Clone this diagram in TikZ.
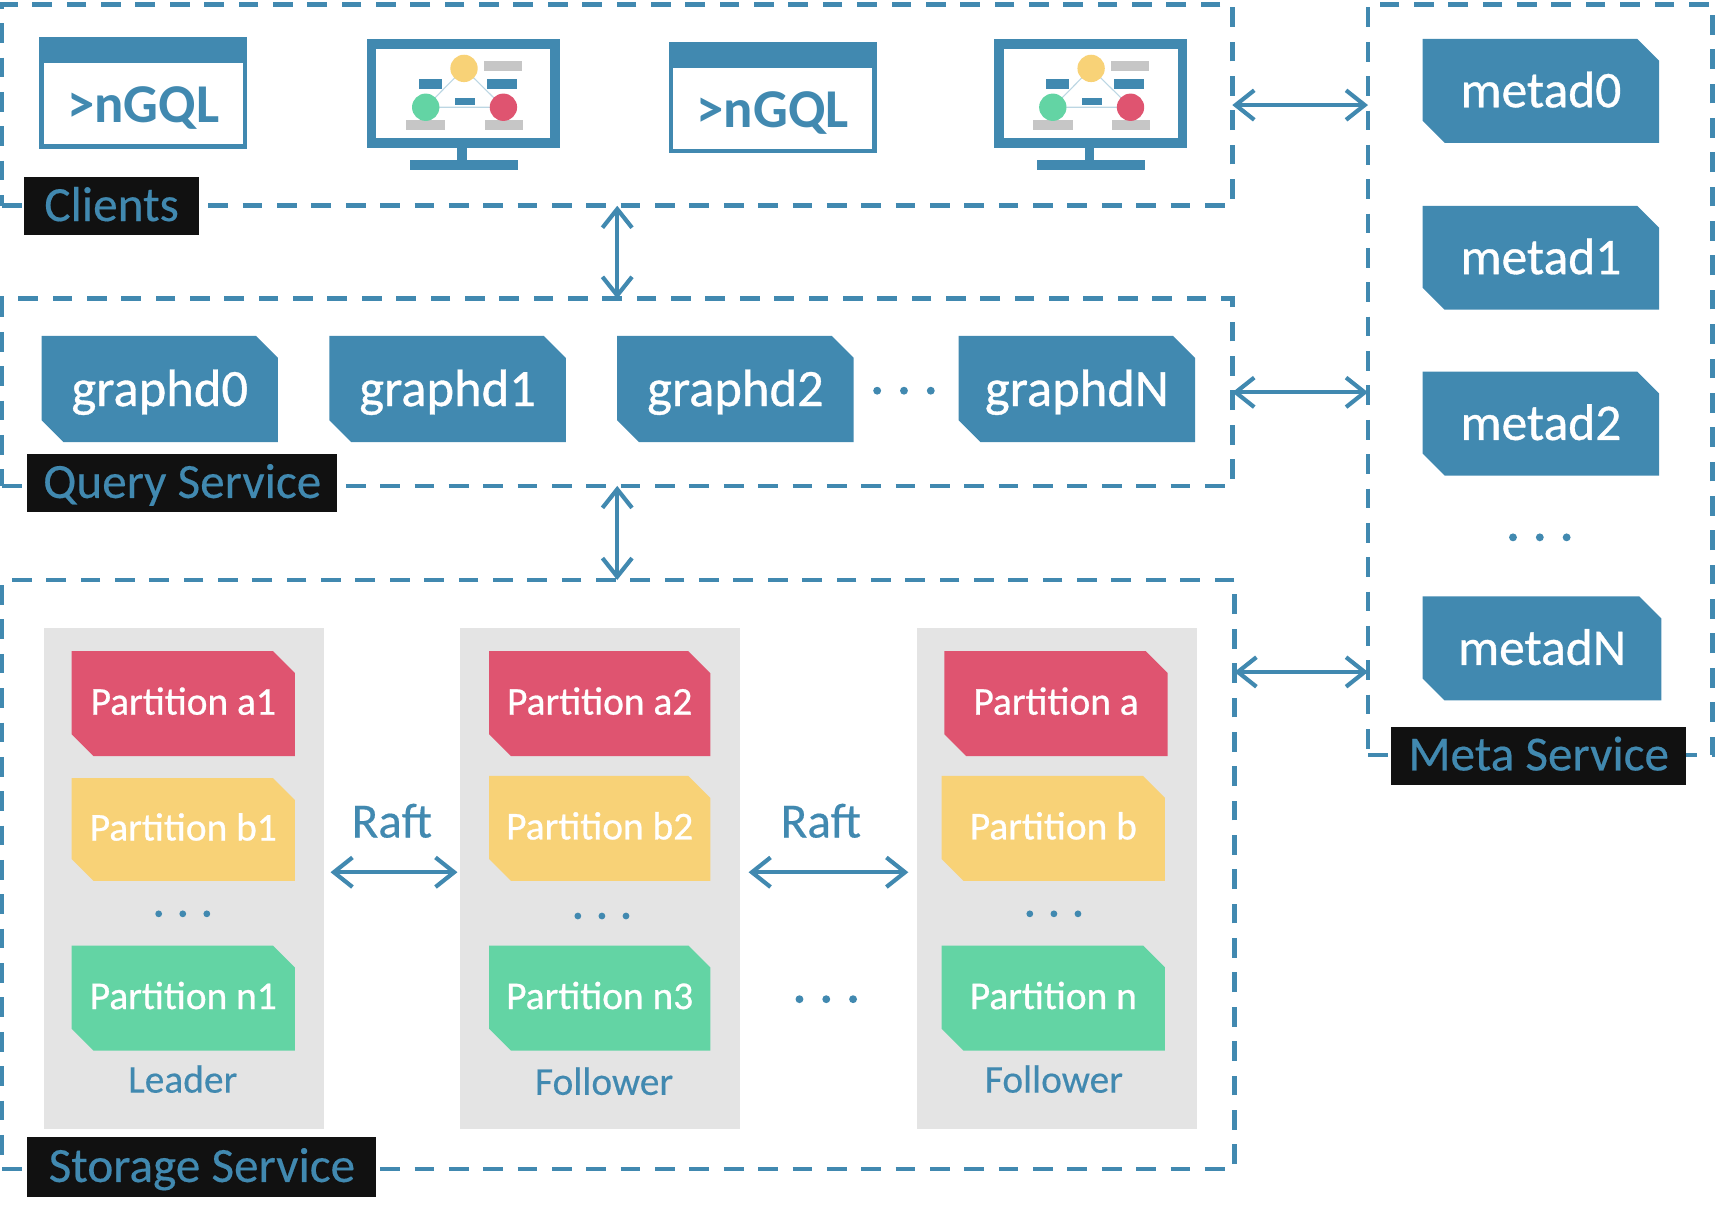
\documentclass[tikz,border=0pt]{standalone}
\usepackage{fontspec}
\setmainfont{Carlito}
\newfontfamily\semib[FakeBold=0.7]{Carlito}
\newfontfamily\semic[FakeBold=0.35]{Carlito}
\usetikzlibrary{arrows.meta,shapes.misc,calc}
\definecolor{cblue}{HTML}{4189B0}
\definecolor{cred}{HTML}{DF5470}
\definecolor{cyel}{HTML}{F8D277}
\definecolor{cgrn}{HTML}{63D4A4}
\definecolor{cgray}{HTML}{E4E4E4}
\definecolor{cicon}{HTML}{C6C6C6}
\definecolor{cblack}{HTML}{111111}
\newcommand{\fs}[1]{\fontsize{#1}{#1}\selectfont}
\tikzset{
  x=1pt,y=-1pt,
  svcbox/.style={draw=cblue,line width=4.2pt,dash pattern=on 18pt off 13.4pt,rectangle,inner sep=0,outer sep=0},
  tagbox/.style={fill=cblack,text=cblue,font=\semic\fs{45},text height=27pt,text depth=0pt,inner sep=0,outer sep=0,rectangle},
  snip/.style={chamfered rectangle,chamfered rectangle corners={north east,south west},chamfered rectangle xsep=10pt,chamfered rectangle ysep=10pt,inner sep=0,outer sep=0,text=white},
  gd/.style={snip,fill=cblue,minimum width=216pt,minimum height=97pt,font=\semib\fs{48},text height=36pt,text depth=5pt},
  md/.style={snip,fill=cblue,minimum width=216pt,minimum height=95pt,font=\semib\fs{47},text height=30pt,text depth=0pt},
  pt/.style={snip,minimum width=204pt,minimum height=96pt,font=\semib\fs{36},text height=26pt,text depth=6pt},
  colbox/.style={fill=cgray,rectangle,minimum width=256pt,minimum height=458pt,inner sep=0,outer sep=0},
  biarrow/.style={draw=cblue,line width=3.8pt,{Straight Barb[length=17pt,width=27pt,line width=3.8pt]}-{Straight Barb[length=17pt,width=27pt,line width=3.8pt]}},
  bluetext/.style={text=cblue,inner sep=0},
  nwindow/.pic={
    \fill[cblue] (0,0) rectangle (190,24);
    \draw[cblue,line width=4pt] (2,2) rectangle (188,100);
    \node[bluetext,font=\fs{50}\bfseries] (-t) at (95,65) {>nGQL};
  },
  nmonitor/.pic={
    \draw[cblue,line width=9pt] (4.5,4.5) rectangle (172.5,94.5);
    \fill[cblue] (83,99) rectangle (92,110);
    \fill[cblue] (40,110) rectangle (138,119);
    \draw[cblue!35,line width=1pt] (89,26.5) -- (54,62) -- (125,62) -- cycle;
    \fill[cicon] (107,20) rectangle (142,29);
    \fill[cicon] (36,74) rectangle (72,83);
    \fill[cicon] (108,74) rectangle (143,83);
    \fill[cblue] (48,36) rectangle (69,45);
    \fill[cblue] (110,36) rectangle (137,45);
    \fill[cblue] (81,54) rectangle (99,60);
    \fill[cyel] (89,26.5) circle (12.5pt);
    \fill[cgrn] (54,62) circle (12.5pt);
    \fill[cred] (125,62) circle (12.5pt);
  },
  threedots/.pic={
    \fill[cblue] (-24.5,0) circle (3.6pt) (0,0) circle (3.6pt) (24.5,0) circle (3.6pt);
  },
  threedotssmall/.pic={
    \fill[cblue] (-22,0) circle (3.1pt) (0,0) circle (3.1pt) (22,0) circle (3.1pt);
  }
}
\begin{document}
\begin{tikzpicture}
\useasboundingbox (0,0) rectangle (1568,1122);
% service boxes
\node[svcbox,minimum width=1124pt,minimum height=184pt] (clients) at (564,96) {};
\node[svcbox,minimum width=1124pt,minimum height=171pt] (query) at (564,358.5) {};
\node[svcbox,minimum width=1126pt,minimum height=538pt] (storage) at (565,799) {};
\node[svcbox,minimum width=315pt,minimum height=686pt] (meta) at (1407.5,347) {};
% clients
\pic (w1) at (36,34) {nwindow};
\pic (m1) at (335,36) {nmonitor};
\pic (w2) at (611,38) {nwindow};
\pic (m2) at (908,36) {nmonitor};
% graphd
\node[gd] (g0) at (146,355.5) {graphd0};
\node[gd] (g1) at (409,355.5) {graphd1};
\node[gd] (g2) at (672,355.5) {graphd2};
\node[gd] (gn) at (984,355.5) {graphdN};
\pic at (826,357) {threedots};
% meta
\node[md] (m0) at (1408,83) {metad0};
\node[md] (md1) at (1408,235.5) {metad1};
\node[md] (md2) at (1408,387) {metad2};
\node[md,minimum width=218pt] (mdn) at (1409,592.5) {metadN};
\pic at (1407,491) {threedots};
% storage columns
\node[colbox] (c1) at (168,803) {};
\node[colbox] (c2) at (548,803) {};
\node[colbox] (c3) at (966,803) {};
\node[pt,fill=cred] (a1) at (167.5,643) {Partition a1};
\node[pt,fill=cyel,minimum height=94pt] (b1) at (167.5,758) {Partition b1};
\node[pt,fill=cgrn] (n1) at (167.5,912) {Partition n1};
\node[pt,fill=cred,minimum width=202pt] (a2) at (548,643) {Partition a2};
\node[pt,fill=cyel,minimum width=202pt] (b2) at (548,757) {Partition b2};
\node[pt,fill=cgrn,minimum width=202pt] (n3) at (548,912) {Partition n3};
\node[pt,fill=cred] (a3) at (965,643) {Partition a};
\node[pt,fill=cyel] (b3) at (962.5,757) {Partition b};
\node[pt,fill=cgrn] (n4) at (962.5,912) {Partition n};
\pic at (167,835) {threedotssmall};
\pic at (550,837) {threedotssmall};
\pic at (963,835) {threedotssmall};
\pic at (755,913) {threedots};
\node[bluetext,font=\semic\fs{36}] (l1) at (167,986) {Leader};
\node[bluetext,font=\semic\fs{36}] (l2) at (552,988) {Follower};
\node[bluetext,font=\semic\fs{36}] (l3) at (963,986) {Follower};
\node[bluetext,font=\semic\fs{45}] (r1) at (358,750) {Raft};
\node[bluetext,font=\semic\fs{45}] (r2) at (750,750) {Raft};
% connectors
\coordinate (ry) at (0,797);
\coordinate (sp) at (1128,614);
\draw[biarrow] (clients.south) -- (query.north);
\draw[biarrow] (query.south) -- (query.south |- storage.north);
\draw[biarrow] (clients.east) -- (clients.east -| meta.west);
\draw[biarrow] (query.east) -- (query.east -| meta.west);
\draw[biarrow] (sp) -- (sp -| meta.west);
\draw[biarrow,shorten <=6pt,shorten >=2pt] (c1.east |- ry) -- (c2.west |- ry);
\draw[biarrow,shorten <=8pt,shorten >=8pt] (c2.east |- ry) -- (c3.west |- ry);
% tags
\node[tagbox,minimum width=160pt,minimum height=53pt] (tc) at (102,188.5) {Clients};
\node[tagbox,minimum width=283pt,minimum height=53pt] (tq) at (166.5,441.5) {Query Service};
\node[tagbox,minimum width=319pt,minimum height=55pt] (ts) at (184.5,1066.5) {Storage Service\hspace{4pt}};
\node[tagbox,minimum width=270pt,minimum height=53pt] (tm) at (1406,690.5) {Meta Service};
\end{tikzpicture}
\end{document}
